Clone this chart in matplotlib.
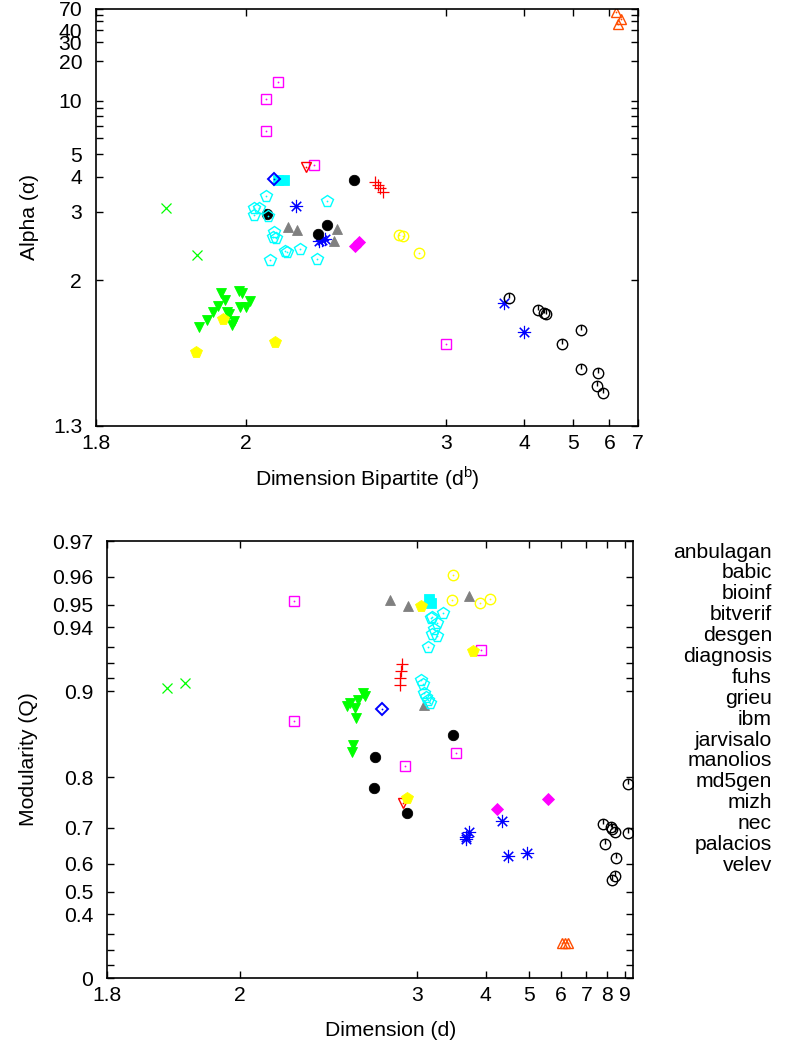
import matplotlib.pyplot as plt
import numpy as np
from matplotlib.path import Path
from matplotlib.ticker import NullFormatter

plt.rcParams["font.family"] = ["Liberation Sans", "DejaVu Sans"]
plt.rcParams["font.size"] = 15.2

names = ["anbulagan", "babic", "bioinf", "bitverif", "desgen", "diagnosis",
         "fuhs", "grieu", "ibm", "jarvisalo", "manolios", "md5gen", "mizh",
         "nec", "palacios", "velev"]

# bipartite dimension, alpha, dimension and modularity for each family
anbulagan_db = [2.47, 2.49, 2.50, 2.52]
anbulagan_alpha = [3.80, 3.70, 3.61, 3.49]
anbulagan_d = [2.848, 2.839, 2.830, 2.830]
anbulagan_q = [0.9195, 0.9149, 0.9100, 0.9048]

babic_db = [1.867, 1.910]
babic_alpha = [3.09, 2.27]
babic_d = [1.865, 1.890]
babic_q = [0.9024, 0.9063]

bioinf_db = [2.132, 2.211, 2.223, 2.234, 3.687, 4.000]
bioinf_alpha = [3.12, 2.46, 2.48, 2.49, 1.815, 1.634]
bioinf_d = [4.330, 3.700, 3.651, 3.651, 4.462, 4.934]
bioinf_q = [0.7164, 0.6902, 0.6775, 0.6723, 0.6243, 0.6333]

bitverif_db = [2.079, 2.047, 2.047, 2.193, 3.001]
bitverif_alpha = [13.7, 10.19, 6.52, 4.46, 1.574]
bitverif_d = [2.169, 2.169, 3.496, 2.877, 3.910]
bitverif_q = [0.9515, 0.8729, 0.8357, 0.8175, 0.9281]

desgen_db = [2.079, 2.096]
desgen_alpha = [3.87, 3.87]
desgen_d = [3.136, 3.160]
desgen_q = [0.9523, 0.9507]

diagnosis_db = [2.623, 2.650, 2.768]
diagnosis_alpha = [2.55, 2.54, 2.30]
diagnosis_d = [3.453, 3.437, 3.890, 4.080]
diagnosis_q = [0.9606, 0.9519, 0.9507, 0.9523]

fuhs_db = [2.360, 2.242, 2.208, 2.050]
fuhs_alpha = [3.87, 2.72, 2.57, 2.94]
fuhs_d = [3.453, 2.618, 2.610, 2.897]
fuhs_q = [0.8578, 0.8303, 0.7823, 0.7340]

grieu_db = [6.200, 6.368, 6.266]
grieu_alpha = [64.9, 53.7, 47.1]
grieu_d = [6.023, 6.130, 6.242]
grieu_q = [0.2449, 0.2449, 0.2449]

ibm_db = [2.108, 2.135, 2.283, 2.270]
ibm_alpha = [2.69, 2.64, 2.65, 2.46]
ibm_d = [2.740, 2.907, 3.700, 3.077]
ibm_q = [0.9519, 0.9495, 0.9534, 0.8882]

jarvisalo_db = [2.165]
jarvisalo_alpha = [4.37]
jarvisalo_d = [2.857]
jarvisalo_q = [0.7545]

manolios_db = [1.950, 1.985, 1.991, 1.957, 2.009, 1.945, 1.987, 2.000,
               1.936, 1.961, 1.965, 1.926, 1.975, 1.971, 1.913]
manolios_alpha = [1.891, 1.906, 1.891, 1.836, 1.829, 1.793, 1.786, 1.786,
                  1.753, 1.753, 1.740, 1.703, 1.696, 1.672, 1.661]
manolios_d = [2.531, 2.545, 2.446, 2.428, 2.497, 2.478, 2.484, 2.465, 2.459]
manolios_q = [0.8984, 0.8960, 0.8900, 0.8873, 0.8926, 0.8855, 0.8759,
              0.8459, 0.8370]

md5gen_db = [2.068]
md5gen_alpha = [3.90]
md5gen_d = [2.673]
md5gen_q = [0.8846]

mizh_db = [2.365, 2.389]
mizh_alpha = [2.40, 2.45]
mizh_d = [4.222, 5.549]
mizh_q = [0.7423, 0.7623]

nec_db = [2.047, 2.018, 2.030, 2.018, 2.052, 2.068, 2.065, 2.074, 2.099,
          2.105, 2.145, 2.057, 2.242, 2.204]
nec_alpha = [3.37, 3.09, 3.07, 2.92, 2.90, 2.60, 2.52, 2.51, 2.32, 2.31,
             2.35, 2.21, 3.24, 2.23]
nec_d = [3.172, 3.313, 3.234, 3.172, 3.234, 3.125, 3.045, 3.077, 3.125,
         3.101, 3.160, 3.197, 3.066, 3.148]
nec_q = [0.9448, 0.9466, 0.9421, 0.9368, 0.9357, 0.9298, 0.9085, 0.8984,
         0.8926, 0.8952, 0.9443, 0.9393, 0.9056, 0.8900]

palacios_db = [1.954, 2.071, 1.908]
palacios_alpha = [1.708, 1.583, 1.537]
palacios_d = [3.045, 3.767, 2.897]
palacios_q = [0.9495, 0.9275, 0.7642]

velev_db = [3.761, 4.247, 4.359, 4.399, 5.186, 4.733, 5.186, 5.648, 5.618, 5.792]
velev_alpha = [1.851, 1.766, 1.746, 1.740, 1.645, 1.574, 1.468, 1.453, 1.409, 1.387]
velev_d = [9.170, 7.769, 8.186, 8.240, 8.405, 9.170, 7.871, 8.459, 8.240, 8.405]
velev_q = [0.7892, 0.7095, 0.7024, 0.6976, 0.6902, 0.6877, 0.6589, 0.6182, 0.5447, 0.5590]

top_data = [
    (anbulagan_db, anbulagan_alpha), (babic_db, babic_alpha),
    (bioinf_db, bioinf_alpha), (bitverif_db, bitverif_alpha),
    (desgen_db, desgen_alpha), (diagnosis_db, diagnosis_alpha),
    (fuhs_db, fuhs_alpha), (grieu_db, grieu_alpha), (ibm_db, ibm_alpha),
    (jarvisalo_db, jarvisalo_alpha), (manolios_db, manolios_alpha),
    (md5gen_db, md5gen_alpha), (mizh_db, mizh_alpha), (nec_db, nec_alpha),
    (palacios_db, palacios_alpha), (velev_db, velev_alpha),
]
bottom_data = [
    (anbulagan_d, anbulagan_q), (babic_d, babic_q), (bioinf_d, bioinf_q),
    (bitverif_d, bitverif_q), (desgen_d, desgen_q), (diagnosis_d, diagnosis_q),
    (fuhs_d, fuhs_q), (grieu_d, grieu_q), (ibm_d, ibm_q),
    (jarvisalo_d, jarvisalo_q), (manolios_d, manolios_q), (md5gen_d, md5gen_q),
    (mizh_d, mizh_q), (nec_d, nec_q), (palacios_d, palacios_q),
    (velev_d, velev_q),
]

# gnuplot postscript colours
RED, GREEN, BLUE = "#ff0000", "#00ff00", "#0000ff"
MAGENTA, CYAN, YELLOW = "#ff00ff", "#00ffff", "#ffff00"
BLACK, ORANGE, GRAY = "#000000", "#ff4d00", "#808080"

# circle with a stroke from the centre to the top
circle_tick = Path.make_compound_path(
    Path.unit_circle(), Path([(0, 0), (0, 1)], [Path.MOVETO, Path.LINETO]))

# marker, colour, kind ("line", "open", "filled"), size, edge width
styles = [
    ("+", RED, "line", 8.5, 0.9),
    ("x", GREEN, "line", 7.5, 0.9),
    ((8, 2, 0), BLUE, "line", 9.5, 0.8),
    ("s", MAGENTA, "open", 7, 1.0),
    ("s", CYAN, "filled", 7, 0.6),
    ("o", YELLOW, "open", 7.5, 1.0),
    ("o", BLACK, "filled", 7.5, 0.6),
    ("^", ORANGE, "open", 7.5, 1.0),
    ("^", GRAY, "filled", 7.5, 0.6),
    ("v", RED, "open", 7.5, 1.0),
    ("v", GREEN, "filled", 7.5, 0.6),
    ("D", BLUE, "open", 6.3, 1.4),
    ("D", MAGENTA, "filled", 6.3, 0.6),
    ("p", CYAN, "open", 8.5, 1.0),
    ("p", YELLOW, "filled", 8.5, 0.6),
    (circle_tick, BLACK, "line", 7.5, 1.0),
]


def draw_points(ax, data):
    for (xs, ys), (marker, color, kind, size, lw) in zip(data, styles):
        if kind == "filled":
            ax.plot(xs, ys, ls="none", marker=marker, ms=size, mfc=color,
                    mec=color, mew=lw)
        else:
            ax.plot(xs, ys, ls="none", marker=marker, ms=size, mfc="none",
                    mec=color, mew=lw)
            if kind == "open":
                ax.plot(xs, ys, ls="none", marker="o", ms=1.3, mfc=color,
                        mec="none")


def fwd_x(x):
    return np.log(np.maximum(np.asarray(x, float) - 1.7, 1e-9))


def inv_x(v):
    return np.exp(v) + 1.7


def fwd_alpha(a):
    return np.log(np.log(np.maximum(np.asarray(a, float), 1.0 + 1e-9)))


def inv_alpha(v):
    return np.exp(np.exp(v))


def fwd_q(q):
    return -np.log(1.0 - np.minimum(np.asarray(q, float), 1.0 - 1e-12))


def inv_q(v):
    return 1.0 - np.exp(-v)


def style_axes(ax):
    for sp in ax.spines.values():
        sp.set_linewidth(1.2)
    ax.tick_params(which="both", direction="in", top=True, right=True,
                   length=5, width=1.0)
    ax.tick_params(axis="y", which="both", pad=10)
    ax.tick_params(axis="x", which="both", pad=6)
    ax.yaxis.set_minor_formatter(NullFormatter())
    ax.xaxis.set_minor_formatter(NullFormatter())


fig = plt.figure(figsize=(7.87, 10.44), dpi=100)

# top: alpha against the bipartite dimension
ax1 = fig.add_axes([0.1220, 0.5920, 0.6887, 0.3994])
ax1.set_xscale("function", functions=(fwd_x, inv_x))
ax1.set_yscale("function", functions=(fwd_alpha, inv_alpha))
draw_points(ax1, top_data)
ax1.set_xlim(1.8, 7)
ax1.set_ylim(1.3, 70)
top_xticks = [1.8, 2, 3, 4, 5, 6, 7]
ax1.set_xticks(top_xticks, labels=["1.8", "2", "3", "4", "5", "6", "7"])
ax1.xaxis.set_minor_locator(plt.NullLocator())
top_yticks = [1.3, 2, 3, 4, 5, 10, 20, 30, 40, 70]
ax1.set_yticks(top_yticks, labels=[str(t) for t in top_yticks])
ax1.set_yticks([6, 7, 8, 9, 50, 60], minor=True)
ax1.set_xlabel(r"Dimension Bipartite (d$^\mathregular{b}$)", labelpad=8)
ax1.set_ylabel("Alpha (α)", labelpad=10)
style_axes(ax1)

# bottom: modularity against the dimension
ax2 = fig.add_axes([0.1360, 0.0632, 0.6684, 0.4186])
ax2.set_xscale("function", functions=(fwd_x, inv_x))
ax2.set_yscale("function", functions=(fwd_q, inv_q))
draw_points(ax2, bottom_data)
ax2.set_xlim(1.8, 9.5)
ax2.set_ylim(0, 0.97)
bottom_xticks = [1.8, 2, 3, 4, 5, 6, 7, 8, 9]
ax2.set_xticks(bottom_xticks, labels=["1.8", "2", "3", "4", "5", "6", "7", "8", "9"])
ax2.xaxis.set_minor_locator(plt.NullLocator())
bottom_yticks = [0, 0.4, 0.5, 0.6, 0.7, 0.8, 0.9, 0.94, 0.95, 0.96, 0.97]
ax2.set_yticks(bottom_yticks, labels=[f"{t:g}" for t in bottom_yticks])
ax2.set_yticks([0.1, 0.2, 0.3, 0.91, 0.92, 0.93], minor=True)
ax2.set_xlabel("Dimension (d)")
ax2.xaxis.set_label_coords(0.54, -0.098)
ax2.set_ylabel("Modularity (Q)", labelpad=10)
style_axes(ax2)

# key: names only, right aligned beside the lower plot
for i, name in enumerate(names):
    y_px = 552 + i * 20.9
    fig.text(772 / 787, 1 - y_px / 1044, name, ha="right", va="center")

fig.savefig("out.png", dpi=100)
